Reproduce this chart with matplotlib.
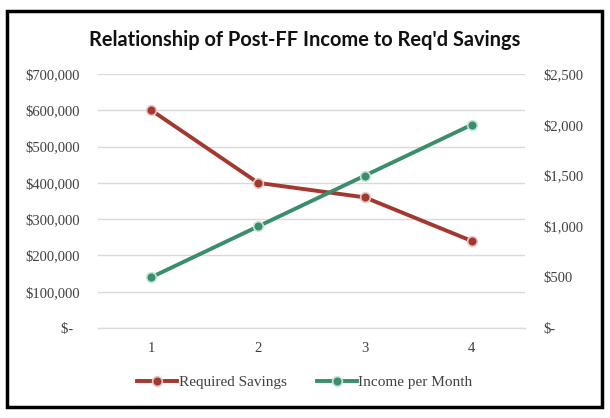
import matplotlib
matplotlib.use("Agg")
import matplotlib.pyplot as plt
from matplotlib.patches import Rectangle
from matplotlib.ticker import FuncFormatter

periods = [1, 2, 3, 4]
required_savings = [600000, 400000, 360000, 240000]
income_per_month = [500, 1000, 1500, 2000]

RED = "#A3382E"
GREEN = "#3B8E6B"
SERIF = "Liberation Serif"


def money(v, _pos):
    if v == 0:
        # accounting style: dash is padded on the right
        return "$-  "
    return f"${v:,.0f}"


def money_right(v, _pos):
    if v == 0:
        return "$-"
    return f"${v:,.0f}"


fig = plt.figure(figsize=(6.10, 4.18), dpi=100)
ax = fig.add_axes([98 / 610, 1 - 328 / 418, (525 - 98) / 610, (328 - 74) / 418])
ax2 = ax.twinx()

ax.plot(periods, required_savings, color=RED, lw=2.8, marker="o", ms=7,
        mfc=RED, mec="#E8C8C4", mew=1.2, label="Required Savings", zorder=3)
ax2.plot(periods, income_per_month, color=GREEN, lw=2.8, marker="o", ms=7,
         mfc=GREEN, mec="#C8E4D8", mew=1.2, label="Income per Month", zorder=3)

ax.set_xlim(0.5, 4.5)
ax.set_ylim(0, 700000)
ax2.set_ylim(0, 2500)
ax.set_xticks(periods)
ax.set_yticks(range(0, 700001, 100000))
ax2.set_yticks(range(0, 2501, 500))
ax.yaxis.set_major_formatter(FuncFormatter(money))
ax2.yaxis.set_major_formatter(FuncFormatter(money_right))

ax.grid(axis="y", color="#D9D9D9", lw=1)
ax.set_axisbelow(True)
for a in (ax, ax2):
    for side in ("top", "left", "right"):
        a.spines[side].set_visible(False)
    a.spines["bottom"].set_color("#D9D9D9")
    a.tick_params(length=0, labelsize=10.5, colors="#404040")
    for lbl in a.get_xticklabels() + a.get_yticklabels():
        lbl.set_fontfamily(SERIF)
ax.tick_params(axis="y", pad=13)
ax2.tick_params(axis="y", pad=13)
ax.tick_params(axis="x", pad=10)

fig.text(0.5, 1 - 40 / 418, "Relationship of Post-FF Income to Req'd Savings",
         ha="center", va="center", fontsize=14.4, fontweight="bold",
         family="Lato", color="#111111")

h1, l1 = ax.get_legend_handles_labels()
h2, l2 = ax2.get_legend_handles_labels()
fig.legend(h1 + h2, l1 + l2, loc="center", bbox_to_anchor=(0.5, 1 - 382 / 418),
           ncol=2, frameon=False, prop={"family": SERIF, "size": 11},
           handlelength=2.6, handletextpad=0.1, columnspacing=2.0,
           labelcolor="#404040")

fig.patches.append(Rectangle((7 / 610, 1 - 407 / 418), 595 / 610, 396 / 418,
                             transform=fig.transFigure, fill=False,
                             edgecolor="black", lw=2.5))

fig.savefig("out.png", dpi=100)
